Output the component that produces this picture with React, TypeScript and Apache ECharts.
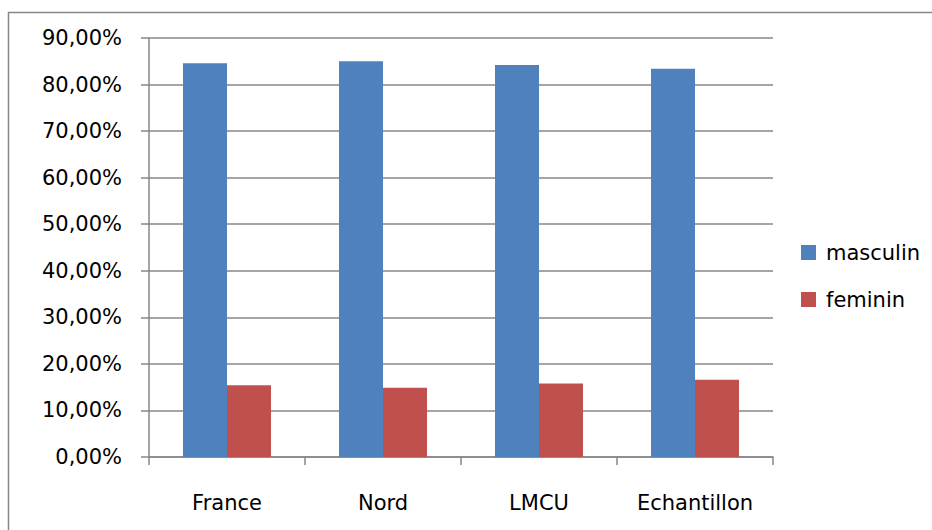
import React, { useEffect, useRef } from "react";
import * as echarts from "echarts";

const categories = ["France", "Nord", "LMCU", "Echantillon"];
const masculin = [84.6, 85.0, 84.2, 83.4];
const feminin = [15.4, 14.9, 15.8, 16.6];
const seriesNames = ["masculin", "feminin"];

const FONT = "DejaVu Sans";
const GRAY = "#878787";

export default function App() {
  const ref = useRef<HTMLDivElement>(null);
  useEffect(() => {
    if (!ref.current) return;
    const chart = echarts.init(ref.current, null, { renderer: "svg" });
    chart.setOption({
      animation: false,
      backgroundColor: "#ffffff",
      textStyle: { fontFamily: FONT },
      graphic: [
        {
          type: "rect",
          shape: { x: 8.5, y: 12.5, width: 940, height: 540 },
          style: { fill: "none", stroke: GRAY, lineWidth: 1.5 },
          silent: true,
        },
      ],
      grid: { left: 149, right: 159, top: 38, bottom: 73, containLabel: false },
      legend: {
        orient: "vertical",
        left: 801,
        top: 242,
        padding: 0,
        icon: "rect",
        itemWidth: 15,
        itemHeight: 15,
        itemGap: 26,
        textStyle: { fontFamily: FONT, fontSize: 21, color: "#000", padding: [0, 0, 0, 5] },
        data: seriesNames,
      },
      xAxis: {
        type: "category",
        data: categories,
        axisLine: { lineStyle: { color: GRAY, width: 1.5 } },
        axisTick: { show: true, length: 8, lineStyle: { color: GRAY, width: 1.5 } },
        axisLabel: { fontFamily: FONT, fontSize: 21, color: "#000", margin: 35 },
      },
      yAxis: {
        type: "value",
        min: 0,
        max: 90,
        interval: 10,
        axisLine: { show: true, lineStyle: { color: GRAY, width: 1.5 } },
        axisTick: { show: true, length: 8, lineStyle: { color: GRAY, width: 1.5 } },
        splitLine: { lineStyle: { color: GRAY, width: 1.5 } },
        axisLabel: {
          fontFamily: FONT,
          fontSize: 21,
          color: "#000",
          margin: 27,
          formatter: (v: number) => v.toFixed(2).replace(".", ",") + "%",
        },
      },
      series: [
        {
          name: seriesNames[0],
          type: "bar",
          data: masculin,
          barWidth: 44,
          barGap: "0%",
          itemStyle: { color: "#4F81BD" },
        },
        {
          name: seriesNames[1],
          type: "bar",
          data: feminin,
          barWidth: 44,
          barGap: "0%",
          itemStyle: { color: "#C0504D" },
        },
      ],
    });
    return () => chart.dispose();
  }, []);
  return (
    <div
      ref={ref}
      style={{ position: "fixed", left: 0, top: 0, width: 932, height: 530 }}
    />
  );
}
